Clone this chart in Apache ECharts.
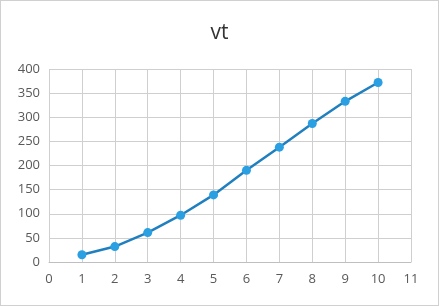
<!DOCTYPE html>
<html><head><meta charset="utf-8">
<script src="https://cdn.jsdelivr.net/npm/echarts@6/dist/echarts.min.js"></script>
<style>html,body{margin:0;padding:0;background:#fff}#c{width:437px;height:304px;border:1px solid #d0d0d0}</style>
</head><body><div id="c"></div>
<script>
const xValues = [1, 2, 3, 4, 5, 6, 7, 8, 9, 10];
const vtValues = [15, 32, 61, 97, 139, 190, 238, 287, 333, 372];
const titleText = 'vt';

const chart = echarts.init(document.getElementById('c'));
chart.setOption({
  animation: false,
  title: { text: titleText, left: 'center', top: 17, textStyle: { fontFamily: 'Open Sans', fontSize: 21, fontWeight: 'normal', color: '#333' } },
  grid: { left: 48, right: 27, top: 68, bottom: 43 },
  xAxis: {
    type: 'value', min: 0, max: 11, interval: 1,
    axisLine: { show: true, lineStyle: { color: '#bfbfbf' } },
    axisTick: { show: false },
    axisLabel: { color: '#595959', fontFamily: 'Open Sans', fontSize: 13, margin: 11 },
    splitLine: { show: true, lineStyle: { color: '#cfcfcf' } }
  },
  yAxis: {
    type: 'value', min: 0, max: 400, interval: 50,
    axisLine: { show: false },
    axisTick: { show: false },
    axisLabel: { color: '#595959', fontFamily: 'Open Sans', fontSize: 13, margin: 9 },
    splitLine: { show: true, lineStyle: { color: '#cfcfcf' } }
  },
  series: [{
    type: 'line',
    data: xValues.map((x, i) => [x, vtValues[i]]),
    symbol: 'circle', symbolSize: 9,
    lineStyle: { color: '#1f7fbf', width: 2.5 },
    itemStyle: { color: '#2aa0e2' }
  }]
});
</script></body></html>
